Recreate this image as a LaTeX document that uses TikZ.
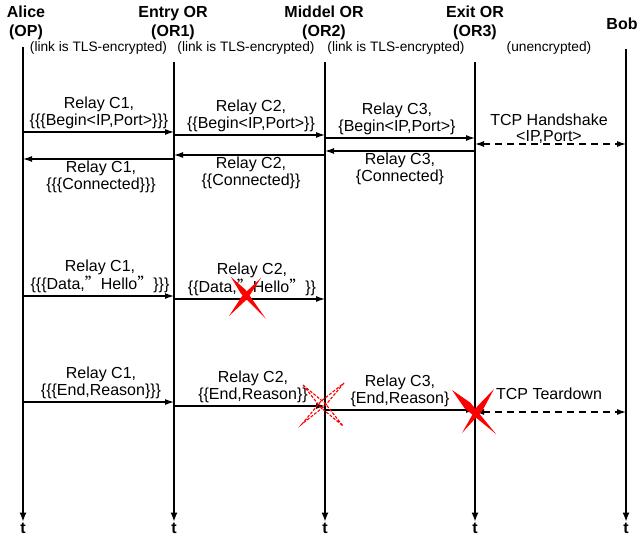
\documentclass[tikz,border=0pt]{standalone}
\usepackage{fontspec}
\setmainfont{Liberation Sans}
\newfontfamily\cjk{Noto Sans CJK SC}
\usetikzlibrary{arrows.meta,calc}
\newcommand{\cjkrq}{{\cjk ”}}
\begin{document}
\begin{tikzpicture}[x=1pt,y=-1pt,
  life/.style={line width=1.3pt,-{Latex[length=9pt,width=7pt]}},
  msg/.style={line width=1.2pt,-{Latex[length=9pt,width=6pt]}},
  tcp/.style={line width=1.2pt,dash pattern=on 7pt off 5pt,{Latex[length=9pt,width=6pt]}-{Latex[length=9pt,width=6pt]}},
  lbl/.style={font=\fontsize{16}{16.5}\selectfont,align=center,inner sep=1pt},
  ttl/.style={font=\bfseries\fontsize{16}{19.5}\selectfont,align=center,inner sep=0pt},
  tlab/.style={font=\bfseries\fontsize{16}{16}\selectfont,inner sep=1pt},
  note/.style={font=\fontsize{13.7}{14}\selectfont,inner sep=0pt},
  xdash/.style={draw=red,line width=1.1pt,dash pattern=on 3pt off 1.5pt,fill=none}
]
\useasboundingbox (0,0) rectangle (642,537);

% titles
\node[ttl] (alice) at (26,23) {Alice\\(OP)};
\node[ttl] (entry) at (173,23) {Entry OR\\(OR1)};
\node[ttl] (middle) at (324,23) {Middel OR\\(OR2)};
\node[ttl] (exit) at (475,23) {Exit OR\\(OR3)};
\node[ttl] (bob) at (622,24) {Bob};

% link notes
\node[note] (n1) at (98.5,48) {(link is TLS-encrypted)};
\node[note] (n2) at (246,48) {(link is TLS-encrypted)};
\node[note] (n3) at (396,48) {(link is TLS-encrypted)};
\node[note] (n4) at (549,48) {(unencrypted)};

% lifelines
\coordinate (aTop) at (23,47);
\coordinate (bTop) at (174,62);
\coordinate (cTop) at (325,62);
\coordinate (dTop) at (475,62);
\coordinate (eTop) at (626,49);
\node[tlab] (ta) at (23,528) {t};
\node[tlab] (tb) at (174,528) {t};
\node[tlab] (tc) at (325,528) {t};
\node[tlab] (td) at (475,528) {t};
\node[tlab] (te) at (626,528) {t};
\draw[life] (aTop) -- (ta.north);
\draw[life] (bTop) -- (tb.north);
\draw[life] (cTop) -- (tc.north);
\draw[life] (dTop) -- (td.north);
\draw[life] (eTop) -- (te.north);

% ---- circuit extension: Begin
\coordinate (b1s) at (23,132);  \coordinate (b1e) at (174,132);
\coordinate (b2s) at (174,135); \coordinate (b2e) at (325,135);
\coordinate (b3s) at (325,138); \coordinate (b3e) at (475,138);
\coordinate (h1s) at (475,144); \coordinate (h1e) at (626,144);
\draw[msg] (b1s) -- (b1e);
\draw[msg] (b2s) -- (b2e);
\draw[msg] (b3s) -- (b3e);
\draw[tcp] (h1s) -- (h1e);
\node[lbl,anchor=south] (lb1) at (99,130) {Relay C1,\\\{\{\{Begin<IP,Port>\}\}\}};
\node[lbl,anchor=south] (lb2) at (251,133) {Relay C2,\\\{\{Begin<IP,Port>\}\}};
\node[lbl,anchor=south] (lb3) at (397,136) {Relay C3,\\\{Begin<IP,Port>\}};
\node[lbl,anchor=south] (lh1) at (549,145) {TCP Handshake\\<IP,Port>};

% ---- Connected
\coordinate (c3s) at (475,151); \coordinate (c3e) at (325,151);
\coordinate (c2s) at (325,155); \coordinate (c2e) at (174,155);
\coordinate (c1s) at (174,159); \coordinate (c1e) at (23,159);
\draw[msg] (c3s) -- (c3e);
\draw[msg] (c2s) -- (c2e);
\draw[msg] (c1s) -- (c1e);
\node[lbl,anchor=north] (lc3) at (400,152) {Relay C3,\\\{Connected\}};
\node[lbl,anchor=north] (lc2) at (251,156) {Relay C2,\\\{\{Connected\}\}};
\node[lbl,anchor=north] (lc1) at (101,160) {Relay C1,\\\{\{\{Connected\}\}\}};

% ---- Data
\coordinate (d1s) at (23,296);  \coordinate (d1e) at (174,296);
\coordinate (d2s) at (174,299); \coordinate (d2e) at (325,299);
\draw[msg] (d1s) -- (d1e);
\draw[msg] (d2s) -- (d2e);
\node[lbl,anchor=south] (ld1) at (100,294) {Relay C1,\\\{\{\{Data,\cjkrq{}Hello\cjkrq{}\}\}\}};
\node[lbl,anchor=south] (ld2) at (252,297) {Relay C2,\\\{\{Data,\cjkrq{}Hello\cjkrq{}\}\}};

% ---- End
\coordinate (e1s) at (23,402);  \coordinate (e1e) at (174,402);
\coordinate (e2s) at (174,406); \coordinate (e2e) at (325,406);
\coordinate (e3s) at (325,410); \coordinate (e3e) at (475,410);
\coordinate (t1s) at (475,412); \coordinate (t1e) at (626,412);
\draw[msg] (e1s) -- (e1e);
\draw[msg] (e2s) -- (e2e);
\draw[msg] (e3s) -- (e3e);
\draw[tcp] (t1s) -- (t1e);
\node[lbl,anchor=south] (le1) at (101,400) {Relay C1,\\\{\{\{End,Reason\}\}\}};
\node[lbl,anchor=south] (le2) at (253,404) {Relay C2,\\\{\{End,Reason\}\}};
\node[lbl,anchor=south] (le3) at (400,408) {Relay C3,\\\{End,Reason\}};
\node[lbl,anchor=south] (lt1) at (549,401) {TCP Teardown};

% ---- crosses (brush strokes)
% data cross
\coordinate (x1a) at (231,277); \coordinate (x1b) at (266,319);
\coordinate (x1c) at (261,278); \coordinate (x1d) at (229,316);
\fill[red] (x1a) -- ($(x1a)!0.35!(x1b)!3pt!90:(x1b)$) -- (x1b) -- ($(x1a)!0.35!(x1b)!3pt!-90:(x1b)$) -- cycle;
\fill[red] (x1c) -- ($(x1c)!0.5!(x1d)!3pt!90:(x1d)$) -- (x1d) -- ($(x1c)!0.5!(x1d)!3pt!-90:(x1d)$) -- cycle;
% dashed cross at OR2
\coordinate (x2a) at (303,385); \coordinate (x2b) at (343,426);
\coordinate (x2c) at (344,383); \coordinate (x2d) at (302,424);
\draw[xdash] (x2a) -- ($(x2a)!0.5!(x2b)!3pt!90:(x2b)$) -- (x2b) -- ($(x2a)!0.5!(x2b)!3pt!-90:(x2b)$) -- cycle;
\draw[xdash] (x2c) -- ($(x2c)!0.5!(x2d)!3pt!90:(x2d)$) -- (x2d) -- ($(x2c)!0.5!(x2d)!3pt!-90:(x2d)$) -- cycle;
% big cross at OR3
\coordinate (x3a) at (452,390); \coordinate (x3b) at (496,434);
\coordinate (x3c) at (494,389); \coordinate (x3d) at (462,433);
\fill[red] (x3a) -- ($(x3a)!0.35!(x3b)!4pt!90:(x3b)$) -- (x3b) -- ($(x3a)!0.35!(x3b)!4pt!-90:(x3b)$) -- cycle;
\fill[red] (x3c) -- ($(x3c)!0.45!(x3d)!3.4pt!90:(x3d)$) -- (x3d) -- ($(x3c)!0.45!(x3d)!3.4pt!-90:(x3d)$) -- cycle;
\end{tikzpicture}
\end{document}
